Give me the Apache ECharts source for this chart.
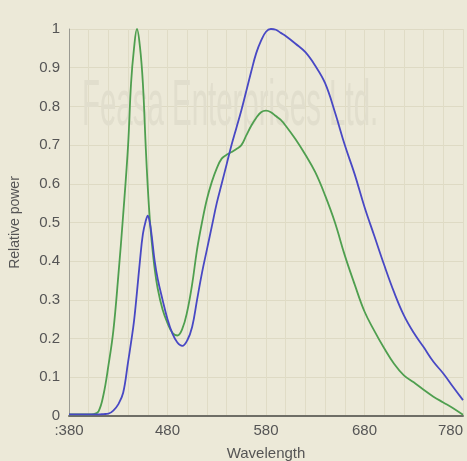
<!DOCTYPE html>
<html>
<head>
<meta charset="utf-8">
<script src="https://cdn.jsdelivr.net/npm/echarts@6/dist/echarts.min.js"></script>
<style>
html,body{margin:0;padding:0;background:#ECE9D8;}
#chart{width:467px;height:461px;}
</style>
</head>
<body>
<div id="chart"></div>
<script>
const wavelengths = [380,390,400,405,410,415,420,425,430,435,440,443,446,449,452,455,458,460,462,464,467,470,475,480,485,490,495,500,505,510,515,520,525,530,535,540,545,550,555,560,565,570,575,580,585,590,595,600,610,620,630,640,650,660,670,680,690,700,710,720,730,740,750,760,770,780];
const greenValues = [0.004,0.004,0.004,0.005,0.012,0.055,0.13,0.22,0.36,0.52,0.70,0.86,0.95,1.0,0.955,0.86,0.69,0.59,0.51,0.45,0.38,0.33,0.275,0.24,0.215,0.208,0.225,0.27,0.34,0.43,0.50,0.56,0.605,0.64,0.665,0.675,0.682,0.69,0.70,0.725,0.75,0.77,0.785,0.789,0.785,0.775,0.765,0.75,0.715,0.675,0.63,0.57,0.50,0.415,0.34,0.27,0.22,0.175,0.135,0.105,0.087,0.068,0.05,0.035,0.02,0.003];
const blueValues = [0.004,0.004,0.004,0.004,0.004,0.005,0.006,0.014,0.03,0.06,0.14,0.19,0.245,0.32,0.40,0.47,0.505,0.518,0.50,0.465,0.40,0.355,0.30,0.25,0.213,0.19,0.181,0.195,0.23,0.30,0.37,0.43,0.49,0.55,0.60,0.65,0.70,0.745,0.79,0.84,0.89,0.937,0.97,0.993,1.0,0.998,0.99,0.982,0.962,0.94,0.905,0.86,0.785,0.70,0.625,0.54,0.465,0.39,0.32,0.26,0.215,0.178,0.14,0.11,0.075,0.041];
const xTickLabels = [':380','480','580','680','780'];
const xAxisTitle = 'Wavelength';
const yAxisTitle = 'Relative power';
const watermark = 'Feasa Enterprises Ltd.';

const pairs = (vals) => wavelengths.map((w, i) => [w, vals[i]]);
const font = 'Liberation Sans, Arial, sans-serif';

const chart = echarts.init(document.getElementById('chart'), null, {renderer: 'canvas'});
chart.setOption({
  backgroundColor: '#ECE9D8',
  animation: false,
  grid: {left: 69, right: 4, top: 29, bottom: 45, containLabel: false, outerBoundsMode: 'none'},
  graphic: [{
    type: 'text',
    x: 82, y: 107, z: 1,
    scaleX: 0.46,
    style: {
      text: watermark,
      x: 0, y: 0,
      font: '64px ' + font,
      fill: '#E1DECD',
      textAlign: 'left',
      textVerticalAlign: 'middle'
    }
  }],
  xAxis: {
    type: 'value',
    min: 380, max: 780, interval: 20,
    name: xAxisTitle,
    nameLocation: 'middle',
    nameGap: 30,
    nameTextStyle: {color: '#555', fontSize: 15, fontFamily: font},
    axisLine: {show: true, lineStyle: {color: '#6E6E66', width: 2}},
    axisTick: {show: false},
    splitLine: {show: true, lineStyle: {color: '#E0DCC6', width: 1}},
    axisLabel: {
      color: '#555', fontSize: 15, fontFamily: font, margin: 7,
      alignMaxLabel: 'right',
      formatter: (v) => {
        const i = (v - 380) / 100;
        return Number.isInteger(i) ? xTickLabels[i] : '';
      }
    }
  },
  yAxis: {
    type: 'value',
    min: 0, max: 1, interval: 0.1,
    name: yAxisTitle,
    nameLocation: 'middle',
    nameGap: 47,
    nameRotate: 90,
    nameTextStyle: {color: '#555', fontSize: 14, fontFamily: font},
    axisLine: {show: true, lineStyle: {color: '#9A9A92', width: 1}},
    axisTick: {show: false},
    splitLine: {show: true, lineStyle: {color: '#DEDAC4', width: 1}},
    axisLabel: {
      color: '#555', fontSize: 15, fontFamily: font, margin: 9,
      padding: [0, 0, 7, 0],
      formatter: (v) => String(Math.round(v * 10) / 10)
    }
  },
  series: [
    {
      name: 'green', type: 'line', data: pairs(greenValues),
      showSymbol: false, smooth: 0.4, z: 3,
      lineStyle: {color: '#4F9F4F', width: 1.8}
    },
    {
      name: 'blue', type: 'line', data: pairs(blueValues),
      showSymbol: false, smooth: 0.4, z: 4,
      lineStyle: {color: '#4848C4', width: 1.8}
    }
  ]
});
</script>
</body>
</html>
